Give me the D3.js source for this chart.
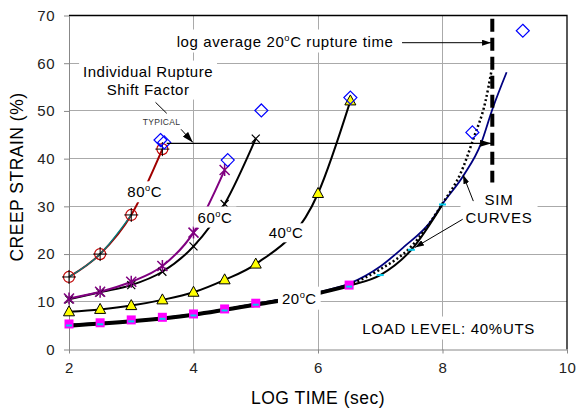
<!DOCTYPE html>
<html>
<head>
<meta charset="utf-8">
<script src="https://cdn.jsdelivr.net/npm/d3@7"></script>
<style>
  body { margin: 0; background: #fff; }
  svg text { font-family: "Liberation Sans", Arial, sans-serif; fill: #000; }
</style>
</head>
<body>
<div id="chart"></div>
<script>
const W = 578, H = 411;
const margin = { top: 15.5, right: 11, bottom: 61.5, left: 69 };

const xTicks = [2, 4, 6, 8, 10];
const yTicks = [0, 10, 20, 30, 40, 50, 60, 70];

// 80C
const time80 = [2, 2.5, 3, 3.5];
const strain80 = [15.2, 20.0, 28.2, 42.0];
// 60C - two specimens
const time60a = [2, 2.5, 3, 3.5, 4, 4.5];
const strain60a = [10.7, 12.1, 14.2, 17.5, 24.5, 37.6];
const time60b = [2, 2.5, 3, 3.5, 4, 4.5, 5.0];
const strain60b = [10.5, 12.0, 13.5, 16.3, 21.6, 30.5, 44.2];
// 40C
const time40 = [2, 2.5, 3, 3.5, 4, 4.5, 5, 6, 6.52];
const strain40 = [7.9, 8.4, 9.2, 10.4, 12.0, 14.6, 17.9, 32.7, 52.1];
// 20C
const time20 = [2, 2.5, 3, 3.5, 4, 4.5, 5, 6.5];
const strain20 = [5.35, 5.6, 6.2, 6.75, 7.45, 8.5, 9.7, 13.5];
// 20C master curve (shifted data)
const timeMaster = [2, 3, 4, 5, 6, 6.5, 7, 7.5, 8];
const strainMaster = [5.0, 5.9, 7.3, 9.4, 11.8, 13.4, 15.6, 20.9, 30.4];
const timeShifted = [7, 7.5, 8];
const strainShifted = [15.6, 20.9, 30.4];
// SIM curves
const timeSimBlue = [2, 3, 4, 5, 6, 6.5, 7, 7.38, 7.81, 8, 8.34, 8.62, 8.8, 9.03];
const strainSimBlue = [5.2, 6.0, 7.4, 9.6, 12.0, 13.8, 17.4, 21.5, 26.8, 30.5, 36.5, 43.2, 50.3, 58.1];
const timeSimDot = [2, 3, 4, 5, 6, 6.5, 7, 7.5, 8, 8.3, 8.5, 8.69, 8.79];
const strainSimDot = [5.1, 5.9, 7.3, 9.5, 11.9, 13.6, 16.8, 21.6, 30.6, 37.2, 44.3, 52.0, 58.6];
// rupture points
const timeRupture = [3.47, 3.53, 4.55, 5.09, 6.52, 8.48, 9.29];
const strainRupture = [43.9, 43.4, 39.7, 50.1, 52.8, 45.5, 66.8];
const logAvgRupture = 8.8;
const shiftStrain = 43.2;

const pts = (xs, ys) => xs.map((d, i) => [d, ys[i]]);

const svg = d3.select("#chart").append("svg")
  .attr("width", W)
  .attr("height", H)
  .style("background", "#fff");

const x = d3.scaleLinear().domain([2, 10]).range([margin.left, W - margin.right]);
const y = d3.scaleLinear().domain([0, 70]).range([H - margin.bottom, margin.top]);

const defs = svg.append("defs");
function arrowDef(id, len, wid) {
  defs.append("marker")
    .attr("id", id)
    .attr("viewBox", `0 0 ${len} ${wid}`)
    .attr("refX", len).attr("refY", wid / 2)
    .attr("markerWidth", len).attr("markerHeight", wid)
    .attr("markerUnits", "userSpaceOnUse")
    .attr("orient", "auto")
    .append("path")
    .attr("d", `M0,0L${len},${wid / 2}L0,${wid}Z`)
    .attr("fill", "#000");
}
arrowDef("arr", 9, 6);
arrowDef("arrBig", 11, 7);

// grid
const grid = svg.append("g").attr("shape-rendering", "crispEdges");
grid.selectAll(".hg").data(yTicks.filter(d => d > 0 && d < 70)).enter()
  .append("line")
  .attr("x1", x(2)).attr("x2", x(10))
  .attr("y1", d => y(d)).attr("y2", d => y(d))
  .attr("stroke", "#aaa");
grid.selectAll(".vg").data(xTicks.filter(d => d > 2 && d < 10)).enter()
  .append("line")
  .attr("x1", d => x(d)).attr("x2", d => x(d))
  .attr("y1", y(0)).attr("y2", y(70))
  .attr("stroke", "#aaa");

// frame top/right
svg.append("path")
  .attr("d", `M${x(2)},${y(70)}H${x(10)}V${y(0)}`)
  .attr("fill", "none").attr("stroke", "#000").attr("stroke-width", 1.3);

// axes
const yAxis = svg.append("g")
  .attr("transform", `translate(${x(2)},0)`)
  .call(d3.axisLeft(y).tickValues(yTicks).tickSize(5).tickSizeOuter(0).tickPadding(9));
const xAxis = svg.append("g")
  .attr("transform", `translate(0,${y(0)})`)
  .call(d3.axisBottom(x).tickValues(xTicks).tickSize(4).tickSizeOuter(0).tickPadding(8.5));
[xAxis, yAxis].forEach(a => {
  a.attr("font-family", null).attr("font-size", null);
  a.select(".domain").attr("stroke", "#888");
  a.selectAll(".tick line").attr("stroke", "#888");
  a.selectAll(".tick text").style("font-size", "15px").style("letter-spacing", "0.5px").style("fill", "#222");
});

svg.append("text")
  .attr("x", (x(2) + x(10)) / 2).attr("y", 404)
  .attr("text-anchor", "middle")
  .style("font-size", "17.5px").style("letter-spacing", "0.5px")
  .text("LOG TIME (sec)");
svg.append("text")
  .attr("transform", `translate(23,177) rotate(-90)`)
  .attr("text-anchor", "middle")
  .style("font-size", "17.5px").style("letter-spacing", "0.5px")
  .text("CREEP STRAIN (%)");

// curves
const line = d3.line().x(d => x(d[0])).y(d => y(d[1])).curve(d3.curveMonotoneX);
const curves = svg.append("g").attr("fill", "none");
function curve(data, color, width, dash) {
  curves.append("path").attr("d", line(data))
    .attr("stroke", color).attr("stroke-width", width)
    .attr("stroke-dasharray", dash || null)
    .attr("stroke-linecap", "butt");
}
curve(pts(timeSimBlue, strainSimBlue), "#000080", 1.8);
curve(pts(timeSimDot, strainSimDot), "#000", 2.5, "2,2.5");
curve(pts(timeMaster, strainMaster), "#000", 2);
curve(pts(timeMaster, strainMaster).filter(d => d[0] <= 6.5), "#000", 4);
curve(pts(time40, strain40), "#000", 2);
curve(pts(time60b, strain60b), "#000", 2);
curve(pts(time60a, strain60a), "#800080", 2);
curve(pts(time80, strain80), "#a00000", 2);
curve(pts(time80, strain80).filter(d => d[0] <= 3), "#008080", 1.3);

// markers
const mk = svg.append("g");
const at = d => `translate(${x(d[0])},${y(d[1])})`;

mk.selectAll(".m80").data(pts(time80, strain80)).enter().append("g")
  .attr("transform", at)
  .each(function () {
    const g = d3.select(this);
    g.append("circle").attr("r", 5.5).attr("fill", "none").attr("stroke", "#c00000").attr("stroke-width", 1.2);
    g.append("path").attr("d", "M-7,0H7M0,-7V7").attr("stroke", "#000").attr("stroke-width", 1);
  });

mk.selectAll(".m60b").data(pts(time60b, strain60b)).enter().append("path")
  .attr("transform", at)
  .attr("d", "M-4,-4L4,4M-4,4L4,-4")
  .attr("stroke", "#000").attr("stroke-width", 1.2);

mk.selectAll(".m60a").data(pts(time60a, strain60a)).enter().append("path")
  .attr("transform", at)
  .attr("d", "M-5,-5L5,5M-5,5L5,-5M0,-6V6")
  .attr("stroke", "#800080").attr("stroke-width", 1.5);

mk.selectAll(".m40").data(pts(time40, strain40)).enter().append("path")
  .attr("transform", at)
  .attr("d", "M0,-6L5.5,4H-5.5Z")
  .attr("fill", "#ffff00").attr("stroke", "#000").attr("stroke-width", 1);

mk.selectAll(".m20").data(pts(time20, strain20)).enter().append("g")
  .attr("transform", at)
  .each(function () {
    const g = d3.select(this);
    g.append("rect").attr("x", -4.5).attr("y", -4.5).attr("width", 9).attr("height", 9).attr("fill", "#ff00ff");
    g.append("path").attr("d", "M-3,1.5H3").attr("stroke", "#00ccee").attr("stroke-width", 2);
  });

mk.selectAll(".mShift").data(pts(timeShifted, strainShifted)).enter().append("path")
  .attr("transform", at)
  .attr("d", "M-3.5,0H3.5")
  .attr("stroke", "#00ccee").attr("stroke-width", 2);

// labels with white boxes
const labels = svg.append("g");
function boxed(lines, px, py, anchor, size, spacing, padX, padY, lineGap) {
  const g = labels.append("g");
  lines.forEach((parts, li) => {
    const t = g.append("text")
      .attr("x", px).attr("y", py + li * (lineGap || 0))
      .attr("text-anchor", anchor)
      .style("font-size", size + "px")
      .style("letter-spacing", spacing + "px");
    let up = false;
    parts.forEach(p => {
      const s = t.append("tspan").text(p.s);
      if (p.sup) { s.attr("dy", -6).style("font-size", (size * 0.62) + "px"); up = true; }
      else if (up) { s.attr("dy", 6); up = false; }
    });
  });
  const b = g.node().getBBox();
  g.insert("rect", ":first-child")
    .attr("x", b.x - padX).attr("y", b.y - padY)
    .attr("width", b.width + 2 * padX).attr("height", b.height + 2 * padY)
    .attr("fill", "#fff");
  return g;
}
const deg = t => [{ s: t }, { s: "o", sup: true }, { s: "C" }];

boxed([deg("80")], x(3.216), y(31.9), "middle", 15, 0.5, 4, 2);
boxed([deg("60")], x(4.345), y(26.6), "middle", 15, 0.5, 4, 2);
boxed([deg("40")], x(5.486), y(23.3), "middle", 15, 0.5, 3, 1);
boxed([deg("20")], x(5.70), y(9.6), "middle", 15, 0.5, 4, 3);
boxed([[{ s: "SIM" }], [{ s: "CURVES" }]], x(8.908), y(30.2), "middle", 15, 0.8, 5, 2, 17.5);
boxed([[{ s: "LOAD LEVEL: 40%UTS" }]], x(6.712), y(3.35), "start", 15, 0.7, 6, 3);
boxed([[{ s: "log average 20" }, { s: "o", sup: true }, { s: "C rupture time" }]],
  x(3.73), y(63.5), "start", 15, 0.6, 5, 3);
boxed([[{ s: "Individual Rupture" }], [{ s: "Shift Factor" }]],
  x(3.27), y(57.2), "middle", 15, 0.5, 4, 2, 18);

svg.append("text")
  .attr("x", x(3.486)).attr("y", y(47.0))
  .attr("text-anchor", "middle")
  .style("font-size", "8.5px").style("letter-spacing", "0.3px").style("fill", "#333")
  .text("TYPICAL");

// rupture diamonds
svg.append("g").selectAll("path").data(pts(timeRupture, strainRupture)).enter().append("path")
  .attr("transform", at)
  .attr("d", "M0,-6.5L6.5,0L0,6.5L-6.5,0Z")
  .attr("fill", "none").attr("stroke", "#0000ff").attr("stroke-width", 1.2);

// annotations
const ann = svg.append("g").attr("stroke", "#000").attr("fill", "none");
function arrow(a, b, w, head) {
  ann.append("line")
    .attr("x1", x(a[0])).attr("y1", y(a[1]))
    .attr("x2", x(b[0])).attr("y2", y(b[1]))
    .attr("stroke-width", w)
    .attr("marker-end", head ? `url(#${head})` : null);
}
arrow([3.57, shiftStrain], [logAvgRupture - 0.02, shiftStrain], 1.3, "arrBig");
arrow([7.35, 64.3], [logAvgRupture - 0.02, 64.3], 1, "arr");
arrow([3.80, 46.15], [3.99, 43.4], 1, "arrBig");
arrow([3.39, 51.8], [3.57, 49.5], 1, null);
arrow([8.495, 31.1], [8.33, 36.6], 1, "arr");
arrow([8.325, 27.3], [7.558, 21.4], 1, "arr");

// log average rupture time
svg.append("line")
  .attr("x1", x(logAvgRupture)).attr("x2", x(logAvgRupture))
  .attr("y1", y(69.3)).attr("y2", y(35))
  .attr("stroke", "#000").attr("stroke-width", 4)
  .attr("stroke-dasharray", "13,6");
</script>
</body>
</html>
